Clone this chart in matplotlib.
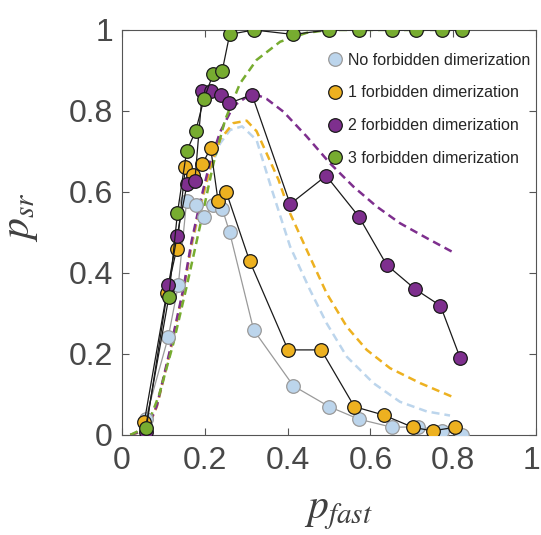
import matplotlib
matplotlib.use("Agg")
import matplotlib.pyplot as plt
from matplotlib.transforms import ScaledTranslation

# simulation points
blue_x = [0.057, 0.112, 0.136, 0.156, 0.178, 0.198, 0.220, 0.242, 0.260, 0.318, 0.414, 0.500, 0.572, 0.652, 0.714, 0.772, 0.822]
blue_y = [0.040, 0.243, 0.370, 0.578, 0.569, 0.539, 0.569, 0.559, 0.500, 0.259, 0.121, 0.070, 0.039, 0.019, 0.020, 0.011, 0.000]

orange_x = [0.054, 0.108, 0.132, 0.153, 0.172, 0.194, 0.214, 0.232, 0.252, 0.308, 0.401, 0.481, 0.561, 0.632, 0.702, 0.750, 0.804]
orange_y = [0.033, 0.350, 0.459, 0.661, 0.642, 0.668, 0.709, 0.578, 0.599, 0.430, 0.210, 0.210, 0.070, 0.049, 0.019, 0.010, 0.019]

purple_x = [0.057, 0.112, 0.133, 0.157, 0.176, 0.194, 0.216, 0.238, 0.258, 0.314, 0.406, 0.493, 0.572, 0.639, 0.708, 0.769, 0.817]
purple_y = [0.007, 0.370, 0.491, 0.619, 0.628, 0.849, 0.849, 0.840, 0.819, 0.840, 0.570, 0.640, 0.539, 0.420, 0.360, 0.319, 0.189]

green_x = [0.057, 0.113, 0.134, 0.156, 0.178, 0.198, 0.220, 0.242, 0.260, 0.318, 0.413, 0.500, 0.572, 0.652, 0.710, 0.772, 0.820]
green_y = [0.018, 0.340, 0.549, 0.700, 0.751, 0.830, 0.891, 0.899, 0.989, 1.000, 0.989, 1.000, 1.000, 1.000, 1.000, 1.000, 1.000]

# theory curves (dashed)
blue_th_x = [0.020, 0.060, 0.084, 0.116, 0.148, 0.168, 0.188, 0.213, 0.237, 0.261, 0.290, 0.325, 0.362, 0.406, 0.454, 0.494, 0.543, 0.607, 0.671, 0.736, 0.792]
blue_th_y = [0.000, 0.012, 0.070, 0.200, 0.350, 0.465, 0.556, 0.654, 0.720, 0.753, 0.762, 0.728, 0.605, 0.465, 0.358, 0.276, 0.193, 0.128, 0.082, 0.058, 0.048]

orange_th_x = [0.020, 0.060, 0.084, 0.116, 0.148, 0.168, 0.188, 0.213, 0.237, 0.269, 0.301, 0.325, 0.378, 0.406, 0.446, 0.494, 0.543, 0.591, 0.647, 0.720, 0.796]
orange_th_y = [0.000, 0.012, 0.070, 0.205, 0.355, 0.470, 0.562, 0.660, 0.730, 0.770, 0.776, 0.750, 0.630, 0.547, 0.457, 0.350, 0.267, 0.210, 0.165, 0.128, 0.095]

purple_th_x = [0.020, 0.060, 0.084, 0.116, 0.148, 0.168, 0.188, 0.213, 0.237, 0.269, 0.300, 0.330, 0.349, 0.390, 0.446, 0.502, 0.559, 0.615, 0.671, 0.736, 0.796]
purple_th_y = [0.000, 0.014, 0.072, 0.210, 0.360, 0.478, 0.572, 0.675, 0.748, 0.812, 0.834, 0.838, 0.830, 0.798, 0.737, 0.671, 0.613, 0.564, 0.523, 0.486, 0.453]

green_th_x = [0.020, 0.060, 0.090, 0.124, 0.156, 0.188, 0.221, 0.249, 0.285, 0.325, 0.382, 0.446, 0.500, 0.600, 0.700, 0.800]
green_th_y = [0.000, 0.020, 0.100, 0.226, 0.366, 0.514, 0.671, 0.778, 0.868, 0.926, 0.971, 0.993, 1.000, 1.000, 1.000, 1.000]

labels = ["No forbidden dimerization", "1 forbidden dimerization",
          "2 forbidden dimerization", "3 forbidden dimerization"]
ticks = [0, 0.2, 0.4, 0.6, 0.8, 1]
tick_labels = ["0", "0.2", "0.4", "0.6", "0.8", "1"]

c_blue = "#bcd5ec"
c_orange = "#edb120"
c_purple = "#7e2f8e"
c_green = "#77ac30"

plt.rcParams["font.family"] = ["Liberation Sans", "DejaVu Sans"]
plt.rcParams["mathtext.fontset"] = "stix"

fig = plt.figure(figsize=(5.41, 5.35), dpi=100)
ax = fig.add_axes([0.2255, 0.187, 0.7655, 0.757])

dash = (3.2, 2.0)
for tx, ty, c in [(blue_th_x, blue_th_y, c_blue), (orange_th_x, orange_th_y, c_orange),
                  (purple_th_x, purple_th_y, c_purple), (green_th_x, green_th_y, c_green)]:
    ax.plot(tx, ty, color=c, lw=1.8, linestyle=(0, dash), zorder=2)

ms = 9.8
ax.plot(blue_x, blue_y, "-", color="#9a9a9a", lw=0.9, zorder=3)
ax.plot(blue_x, blue_y, "o", ms=ms, mfc=c_blue, mec="#9a9a9a", mew=0.9, zorder=4, label=labels[0])
for xs, ys, c, lab, z in [(orange_x, orange_y, c_orange, labels[1], 5),
                          (purple_x, purple_y, c_purple, labels[2], 6),
                          (green_x, green_y, c_green, labels[3], 7)]:
    ax.plot(xs, ys, "-", color="#1a1a1a", lw=0.9, zorder=z)
    ax.plot(xs, ys, "o", ms=ms, mfc=c, mec="#1a1a1a", mew=0.9, zorder=z, label=lab)

ax.set_xlim(0, 1)
ax.set_ylim(0, 1)
ax.set_xticks(ticks)
ax.set_xticklabels(tick_labels)
ax.set_yticks(ticks)
ax.set_yticklabels(tick_labels)
ax.tick_params(direction="in", top=True, right=True, length=5, width=0.8,
               color="#555555", labelsize=23, labelcolor="#484848")
ax.tick_params(axis="y", pad=6.5)
ax.tick_params(axis="x", pad=8)
for s in ax.spines.values():
    s.set_color("#555555")
    s.set_linewidth(0.8)

# last x tick label sits against the figure edge
last = ax.get_xticklabels()[-1]
last.set_transform(last.get_transform() + ScaledTranslation(-5 / 100, 0, fig.dpi_scale_trans))

ax.set_xlabel(r"$p_{fast}$", fontsize=30, color="#404040")
ax.set_ylabel(r"$p_{sr}$", fontsize=30, color="#404040")
ax.xaxis.set_label_coords(0.522, -0.14)
ax.yaxis.set_label_coords(-0.198, 0.538)

leg = ax.legend(loc="upper left", bbox_to_anchor=(0.499, 0.944), frameon=False,
                fontsize=11.5, handlelength=0.8, handletextpad=0.41,
                labelspacing=1.11, borderaxespad=0, borderpad=0)
for t in leg.get_texts():
    t.set_color("#262626")

fig.savefig("out.png", dpi=100)
